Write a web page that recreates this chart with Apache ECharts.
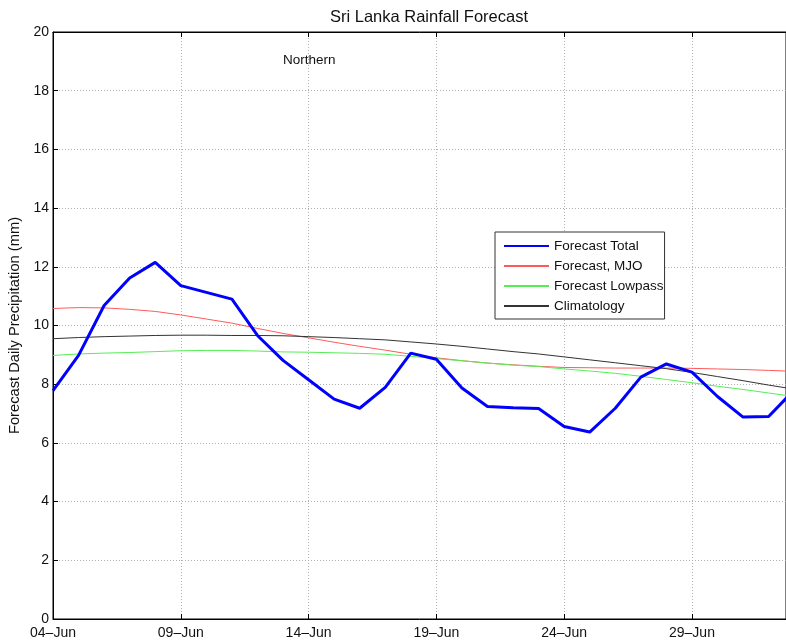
<!DOCTYPE html>
<html>
<head>
<meta charset="utf-8">
<script src="https://cdn.jsdelivr.net/npm/echarts@6/dist/echarts.min.js"></script>
<style>
  html, body { margin: 0; padding: 0; background: #fff; }
  #chart { width: 786px; height: 643px; }
</style>
</head>
<body>
<div id="chart"></div>
<script>
// day offsets from 04-Jun
let days = [];
for (let i = 0; i < 30; i++) days.push(i);

let tickLabels = ['04–Jun', '09–Jun', '14–Jun', '19–Jun', '24–Jun', '29–Jun'];

let forecastTotal = [7.78, 8.98, 10.68, 11.62, 12.15, 11.36, 11.13, 10.9, 9.66, 8.81,
    8.15, 7.49, 7.18, 7.89, 9.06, 8.85, 7.87, 7.24, 7.2, 7.17,
    6.56, 6.37, 7.18, 8.24, 8.69, 8.41, 7.58, 6.88, 6.9, 7.8];
let forecastMJO = [10.58, 10.61, 10.6, 10.55, 10.48, 10.36, 10.22, 10.08, 9.9, 9.73,
    9.58, 9.43, 9.29, 9.16, 9.02, 8.9, 8.8, 8.72, 8.66, 8.61,
    8.57, 8.56, 8.55, 8.55, 8.55, 8.54, 8.52, 8.5, 8.47, 8.44];
let forecastLowpass = [8.98, 9.03, 9.06, 9.08, 9.11, 9.14, 9.15, 9.15, 9.13, 9.1,
    9.09, 9.07, 9.05, 9.02, 8.95, 8.87, 8.8, 8.72, 8.65, 8.6,
    8.52, 8.45, 8.37, 8.27, 8.16, 8.05, 7.93, 7.82, 7.7, 7.58];
let climatology = [9.55, 9.59, 9.62, 9.64, 9.66, 9.67, 9.67, 9.66, 9.66, 9.65,
    9.62, 9.59, 9.55, 9.51, 9.44, 9.37, 9.29, 9.2, 9.11, 9.03,
    8.93, 8.83, 8.73, 8.63, 8.53, 8.4, 8.26, 8.12, 7.97, 7.83];

function pairs(vals) {
    return days.map(function (d, i) { return [d, vals[i]]; });
}

let font = 'Liberation Sans, Arial, sans-serif';
let chart = echarts.init(document.getElementById('chart'));

let option = {
    animation: false,
    backgroundColor: '#fff',
    textStyle: { fontFamily: font },
    title: {
        text: 'Sri Lanka Rainfall Forecast',
        left: 424,
        textAlign: 'center',
        top: 4,
        textStyle: { fontSize: 16.5, fontWeight: 'normal', color: '#111', fontFamily: font }
    },
    graphic: [{
        type: 'text',
        left: 283,
        top: 53,
        style: { text: 'Northern', fontSize: 13.5, fill: '#111', fontFamily: font }
    }],
    legend: {
        orient: 'vertical',
        left: 495,
        top: 232,
        padding: [7, 1, 6, 8],
        itemWidth: 45,
        itemHeight: 12,
        itemGap: 6,
        backgroundColor: '#fff',
        borderColor: '#333',
        borderWidth: 1,
        borderRadius: 0,
        itemStyle: { opacity: 0 },
        textStyle: { fontSize: 13.5, color: '#111', fontFamily: font, padding: [0, 0, 0, 0] },
        data: ['Forecast Total', 'Forecast, MJO', 'Forecast Lowpass', 'Climatology']
    },
    grid: {
        left: 53,
        right: 0,
        top: 32,
        bottom: 24,
        outerBoundsMode: 'none',
        show: true,
        borderColor: '#000',
        borderWidth: 1
    },
    xAxis: [{
        type: 'value',
        min: 0,
        max: 28.68,
        interval: 5,
        axisLine: { lineStyle: { color: '#000' } },
        axisTick: { inside: true, length: 5, lineStyle: { color: '#000' } },
        axisLabel: {
            color: '#111',
            fontSize: 14,
            margin: 7,
            showMaxLabel: false,
            formatter: function (v) {
                let k = v / 5;
                return Number.isInteger(k) && tickLabels[k] ? tickLabels[k] : '';
            }
        },
        splitLine: { lineStyle: { color: '#b0b0b0', type: [1, 2] } }
    }, {
        type: 'value',
        position: 'top',
        min: 0,
        max: 28.68,
        interval: 5,
        axisLine: { lineStyle: { color: '#000' } },
        axisTick: { inside: true, length: 5, lineStyle: { color: '#000' } },
        axisLabel: { show: false },
        splitLine: { show: false }
    }],
    yAxis: {
        type: 'value',
        min: 0,
        max: 20,
        interval: 2,
        name: 'Forecast Daily Precipitation (mm)',
        nameLocation: 'middle',
        nameGap: 25,
        nameTextStyle: { fontSize: 14.7, color: '#111', fontFamily: font },
        axisLine: { show: true, lineStyle: { color: '#000' } },
        axisTick: { show: true, inside: true, length: 5, lineStyle: { color: '#000' } },
        axisLabel: { color: '#111', fontSize: 14, margin: 4 },
        splitLine: { lineStyle: { color: '#b0b0b0', type: [1, 2] } }
    },
    series: [
        {
            name: 'Forecast Total',
            type: 'line',
            symbol: 'none',
            clip: true,
            z: 5,
            color: '#0000ff',
            lineStyle: { width: 3, color: '#0000ff' },
            data: pairs(forecastTotal)
        },
        {
            name: 'Forecast, MJO',
            type: 'line',
            symbol: 'none',
            clip: true,
            color: '#ff5a5a',
            lineStyle: { width: 1, color: '#ff5a5a' },
            data: pairs(forecastMJO)
        },
        {
            name: 'Forecast Lowpass',
            type: 'line',
            symbol: 'none',
            clip: true,
            color: '#55ee55',
            lineStyle: { width: 1, color: '#55ee55' },
            data: pairs(forecastLowpass)
        },
        {
            name: 'Climatology',
            type: 'line',
            symbol: 'none',
            clip: true,
            color: '#333',
            lineStyle: { width: 1, color: '#333' },
            data: pairs(climatology)
        }
    ]
};

chart.setOption(option);
</script>
</body>
</html>
